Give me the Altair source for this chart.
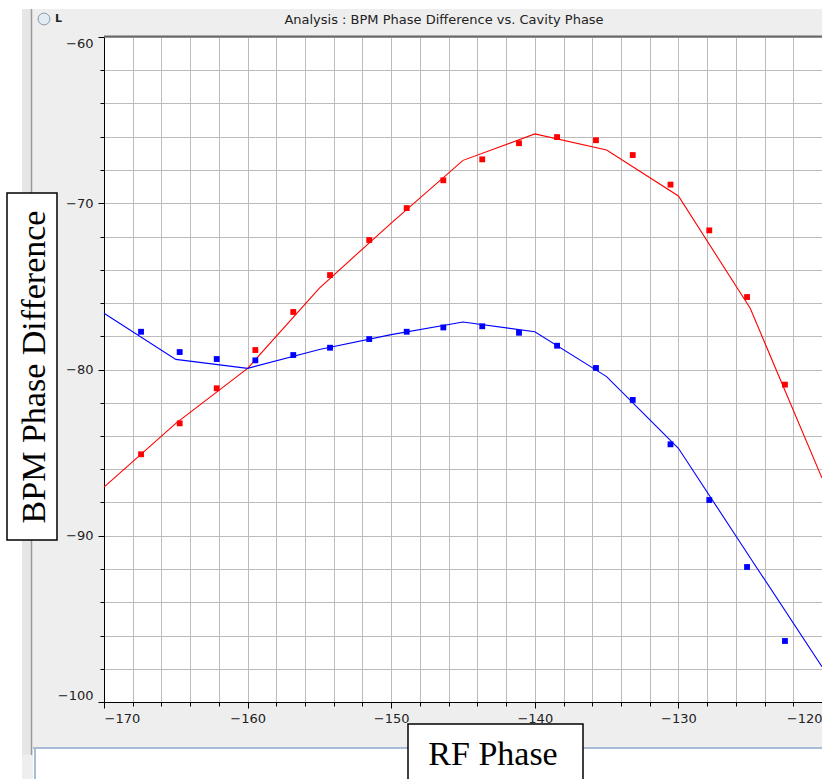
import altair as alt
import pandas as pd

# ---- data ----
phase = [-167.42, -164.73, -162.15, -159.46, -156.82, -154.26, -151.53, -148.92, -146.37,
         -143.66, -141.10, -138.45, -135.74, -133.18, -130.55, -127.85, -125.22, -122.58]
red_pts = [-85.10, -83.24, -81.13, -78.83, -76.54, -74.32, -72.21, -70.29, -68.62,
           -67.36, -66.39, -66.02, -66.21, -67.10, -68.88, -71.63, -75.64, -80.91]
blue_pts = [-77.73, -78.95, -79.37, -79.45, -79.13, -78.69, -78.17, -77.73, -77.47,
            -77.40, -77.79, -78.57, -79.91, -81.83, -84.50, -87.85, -91.88, -96.33]
fit_phase = [-170, -165, -160, -155, -150, -145, -140, -135, -130, -125, -120]
red_fit = [-87.07, -83.24, -79.93, -75.10, -71.19, -67.42, -65.83, -66.80, -69.56, -76.32, -86.53]
blue_fit = [-76.62, -79.39, -79.93, -78.80, -77.90, -77.14, -77.73, -80.43, -84.74, -91.32, -97.88]

x_ticks = list(range(-170, -119, 2))
y_ticks = list(range(-100, -59, 2))

title_text = "Analysis : BPM Phase Difference vs. Cavity Phase"
y_label = "BPM Phase Difference"
x_label = "RF Phase"

pts = pd.DataFrame({
    "phase": phase * 2,
    "value": red_pts + blue_pts,
    "series": ["red"] * len(phase) + ["blue"] * len(phase),
})
fit = pd.DataFrame({
    "phase": fit_phase * 2,
    "value": red_fit + blue_fit,
    "series": ["red"] * len(fit_phase) + ["blue"] * len(fit_phase),
})

W, H = 718, 665
PL, PT = 104, 37

xs = alt.Scale(domain=[-170, -120], nice=False, zero=False)
ys = alt.Scale(domain=[-100, -60], nice=False, zero=False)
col = alt.Scale(domain=["red", "blue"], range=["#ff0000", "#0000ff"])

major = "datum.value % 10 === 0"
common_axis = dict(
    title=None, labelFlush=True, grid=True, gridColor="#bcbcbc", gridWidth=1,
    domainColor="#000000", domainWidth=1, tickColor="#000000",
    labelFont="DejaVu Sans", labelFontSize=13, labelColor="#222222",
    labelExpr=f"{major} ? datum.label : ''", zindex=0,
)
x_axis = alt.Axis(values=x_ticks, labelPadding=4,
                  tickSize={"condition": {"test": major, "value": 6}, "value": 4},
                  **common_axis)
y_axis = alt.Axis(values=y_ticks, labelPadding=5,
                  tickSize={"condition": {"test": major, "value": 6}, "value": 4},
                  **common_axis)

X = alt.X("phase:Q", scale=xs, axis=x_axis)
Y = alt.Y("value:Q", scale=ys, axis=y_axis)
C = alt.Color("series:N", scale=col, legend=None)

lines = alt.Chart(fit).mark_line(strokeWidth=1.1).encode(x=X, y=Y, color=C, detail="series:N")
points = alt.Chart(pts).mark_point(shape="square", filled=True, size=34, opacity=1).encode(
    x=X, y=Y, color=C)

one = pd.DataFrame({"k": [0]})


def rect(x, x2, y, y2, fill, stroke=None, sw=0):
    kw = dict(fill=fill)
    if stroke:
        kw.update(stroke=stroke, strokeWidth=sw)
    return alt.Chart(one).mark_rect(**kw).encode(
        x=alt.value(x - PL), x2=alt.value(x2 - PL), y=alt.value(y - PT), y2=alt.value(y2 - PT))


def text(t, x, y, **kw):
    return alt.Chart(one).mark_text(**kw).encode(
        x=alt.value(x - PL), y=alt.value(y - PT), text=alt.value(t))


def hrule(x, x2, y, color, sw=1):
    return alt.Chart(one).mark_rule(color=color, strokeWidth=sw).encode(
        x=alt.value(x - PL), x2=alt.value(x2 - PL), y=alt.value(y - PT))


def vrule(x, y, y2, color, sw=1):
    return alt.Chart(one).mark_rule(color=color, strokeWidth=sw).encode(
        x=alt.value(x - PL), y=alt.value(y - PT), y2=alt.value(y2 - PT))


deco = [
    rect(0, 822, 0, 9, "white"),
    rect(0, 22, 0, 779, "white"),
    rect(22, 31, 9, 755, "#e6e6e6"),
    vrule(31.5, 9, 755, "#9a9a9a", 1.5),
    rect(33, 822, 748, 779, "white"),
    hrule(33, 822, 748, "#a8bcd8", 2),
    vrule(35, 748, 779, "#a8bcd8", 2),
    hrule(PL, 822, 36.5, "#666666", 2),
]

radio = alt.Chart(one).mark_point(shape="circle", filled=True, size=140, fill="#e3ebf3",
                                  stroke="#8a99aa", strokeWidth=1, opacity=1).encode(
    x=alt.value(44 - PL), y=alt.value(19 - PT))
radio_l = text("L", 55, 19, font="DejaVu Sans", fontSize=11, fontWeight="bold",
               align="left", baseline="middle", color="#222222")
title = text(title_text, 444, 20, font="DejaVu Sans", fontSize=13, align="center",
             baseline="middle", color="#222222")

ybox = rect(7, 57, 193, 540, "white", "#000000", 1.5)
ybox_t = text(y_label, 45, 367, font="Liberation Serif", fontSize=34, angle=270,
              align="center", baseline="alphabetic", color="#000000")
xbox = rect(408, 583, 724, 790, "white", "#000000", 1.5)
xbox_t = text(x_label, 493, 765, font="Liberation Serif", fontSize=34,
              align="center", baseline="alphabetic", color="#000000")

chart = alt.layer(
    *deco, lines, points, radio, radio_l, title, ybox, ybox_t, xbox, xbox_t
).properties(
    width=W, height=H,
    autosize=alt.AutoSizeParams(type="none"),
    padding={"left": PL, "top": PT, "right": 0, "bottom": 779 - PT - H},
    background="#eeeeee",
).configure_view(fill="white", stroke=None)

chart.save("out.html", embed_options={"renderer": "svg", "actions": False})
